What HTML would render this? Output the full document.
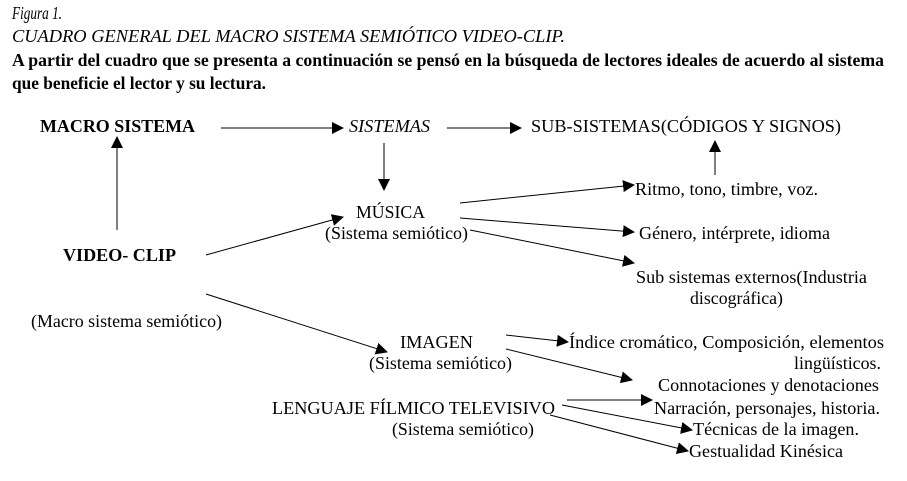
<!DOCTYPE html>
<html><head><meta charset="utf-8"><style>
html,body{margin:0;padding:0;background:#fff;width:907px;height:481px;overflow:hidden}
svg text{font-family:"Liberation Serif",serif;font-size:18px;fill:#000}
.b{font-weight:bold}.i{font-style:italic}
</style></head><body>
<svg width="907" height="481" xmlns="http://www.w3.org/2000/svg">
<defs><marker id="a" markerWidth="12" markerHeight="12" refX="11" refY="6" orient="auto" markerUnits="userSpaceOnUse"><path d="M0,0 L12,6 L0,12 z" fill="#000"/></marker></defs>
<g>
<text class="i" x="12" y="19" textLength="50" lengthAdjust="spacingAndGlyphs">Figura 1.</text>
<text class="i" x="12" y="42" textLength="553" lengthAdjust="spacingAndGlyphs">CUADRO GENERAL DEL MACRO SISTEMA SEMIÓTICO VIDEO-CLIP.</text>
<text class="b" x="12" y="66" textLength="872" lengthAdjust="spacingAndGlyphs">A partir del cuadro que se presenta a continuación se pensó  en la búsqueda de lectores ideales de acuerdo al sistema</text>
<text class="b" x="12" y="89" textLength="254" lengthAdjust="spacingAndGlyphs">que beneficie el lector y su lectura.</text>
<text class="b" x="40" y="132" textLength="155" lengthAdjust="spacingAndGlyphs">MACRO SISTEMA</text>
<text class="i" x="349" y="132" textLength="81" lengthAdjust="spacingAndGlyphs">SISTEMAS</text>
<text x="531" y="132" textLength="310" lengthAdjust="spacingAndGlyphs">SUB-SISTEMAS(CÓDIGOS Y SIGNOS)</text>
<text x="356" y="218" textLength="69" lengthAdjust="spacingAndGlyphs">MÚSICA</text>
<text x="325" y="239" textLength="143" lengthAdjust="spacingAndGlyphs">(Sistema semiótico)</text>
<text x="635" y="195" textLength="183" lengthAdjust="spacingAndGlyphs">Ritmo, tono, timbre, voz.</text>
<text x="639" y="239" textLength="191" lengthAdjust="spacingAndGlyphs">Género, intérprete, idioma</text>
<text x="636" y="283" textLength="231" lengthAdjust="spacingAndGlyphs">Sub sistemas externos(Industria</text>
<text x="690" y="304" textLength="93" lengthAdjust="spacingAndGlyphs">discográfica)</text>
<text class="b" x="63" y="261" textLength="113" lengthAdjust="spacingAndGlyphs">VIDEO- CLIP</text>
<text x="31" y="327" textLength="191" lengthAdjust="spacingAndGlyphs">(Macro sistema semiótico)</text>
<text x="400" y="348" textLength="73" lengthAdjust="spacingAndGlyphs">IMAGEN</text>
<text x="369" y="369" textLength="143" lengthAdjust="spacingAndGlyphs">(Sistema semiótico)</text>
<text x="569" y="348" textLength="315" lengthAdjust="spacingAndGlyphs">Índice cromático, Composición, elementos</text>
<text x="794" y="369" textLength="87" lengthAdjust="spacingAndGlyphs">lingüísticos.</text>
<text x="658" y="391" textLength="221" lengthAdjust="spacingAndGlyphs">Connotaciones y denotaciones</text>
<text x="272" y="414" textLength="283" lengthAdjust="spacingAndGlyphs">LENGUAJE FÍLMICO TELEVISIVO</text>
<text x="654" y="414" textLength="226" lengthAdjust="spacingAndGlyphs">Narración, personajes, historia.</text>
<text x="392" y="435" textLength="142" lengthAdjust="spacingAndGlyphs">(Sistema semiótico)</text>
<text x="693" y="435" textLength="166" lengthAdjust="spacingAndGlyphs">Técnicas de la imagen.</text>
<text x="689" y="457" textLength="154" lengthAdjust="spacingAndGlyphs">Gestualidad Kinésica</text>
</g>
<g stroke="#000" stroke-width="1" fill="none" marker-end="url(#a)">
<line x1="221" y1="128" x2="343" y2="128"/>
<line x1="447" y1="128" x2="521" y2="128"/>
<line x1="384" y1="143" x2="384" y2="190"/>
<line x1="117" y1="230" x2="117" y2="137"/>
<line x1="715" y1="175" x2="715" y2="141"/>
<line x1="460" y1="203" x2="634" y2="185"/>
<line x1="460" y1="218" x2="634" y2="232"/>
<line x1="470" y1="230" x2="634" y2="263"/>
<line x1="206" y1="255" x2="343" y2="217"/>
<line x1="206" y1="294" x2="387" y2="352"/>
<line x1="506" y1="335" x2="568" y2="342"/>
<line x1="506" y1="349" x2="632" y2="380"/>
<line x1="567" y1="400" x2="652" y2="400"/>
<line x1="562" y1="405" x2="692" y2="430"/>
<line x1="550" y1="415" x2="688" y2="451"/>
</g>
</svg>
</body></html>
